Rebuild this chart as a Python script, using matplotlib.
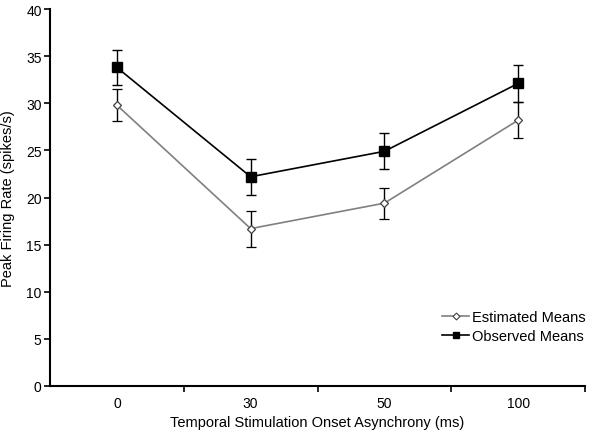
import numpy as np
import matplotlib.pyplot as plt
from matplotlib.ticker import FixedLocator
from matplotlib.lines import Line2D

plt.rcParams['font.family'] = ['Liberation Sans', 'DejaVu Sans']

# Data
soa_labels = ["0", "30", "50", "100"]
estimated = [29.8, 16.7, 19.4, 28.2]
estimated_err = [1.7, 1.9, 1.65, 1.9]
observed = [33.8, 22.2, 24.9, 32.1]
observed_err = [1.9, 1.9, 1.9, 2.0]

x = np.arange(len(soa_labels))

fig = plt.figure(figsize=(6, 4.39), dpi=100)
ax = fig.add_axes([50 / 600, 1 - 387 / 439, 535 / 600, 377 / 439])

est_style = dict(color="#808080", lw=1.2, marker="D", markersize=4.5,
                 markerfacecolor="white", markeredgecolor="#404040",
                 markeredgewidth=0.9)
obs_style = dict(color="black", lw=1.2, marker="s", markersize=7,
                 markerfacecolor="black", markeredgecolor="black")

ax.errorbar(x, estimated, yerr=estimated_err, ecolor="black", elinewidth=1,
            capsize=3.5, capthick=1, zorder=3, **est_style)
ax.errorbar(x, observed, yerr=observed_err, ecolor="black", elinewidth=1,
            capsize=3.5, capthick=1, zorder=4, **obs_style)

ax.set_xlim(-0.5, 3.5)
ax.set_ylim(0, 40)
ax.set_yticks(np.arange(0, 41, 5))
ax.set_xticks(x)
ax.set_xticklabels(soa_labels)
ax.xaxis.set_minor_locator(FixedLocator([0.5, 1.5, 2.5, 3.5]))
ax.tick_params(axis="x", which="major", length=0, pad=7, labelsize=10)
ax.tick_params(axis="x", which="minor", length=4, width=1.2, direction="out")
ax.tick_params(axis="y", length=4, width=1.2, direction="out", labelsize=10, pad=2)

for s in ["top", "right"]:
    ax.spines[s].set_visible(False)
for s in ["left", "bottom"]:
    ax.spines[s].set_linewidth(1.5)

ax.set_xlabel("Temporal Stimulation Onset Asynchrony (ms)", fontsize=10.5, labelpad=4)
ax.set_ylabel("Peak Firing Rate (spikes/s)", fontsize=10.5, labelpad=8)

handles = [
    Line2D([], [], color="#808080", lw=1.2, marker="D", markersize=3.5,
           markerfacecolor="white", markeredgecolor="#404040", markeredgewidth=0.8),
    Line2D([], [], color="black", lw=1.2, marker="s", markersize=5,
           markerfacecolor="black"),
]
ax.legend(handles, ["Estimated Means", "Observed Means"], loc="lower right",
          bbox_to_anchor=(1.025, 0.08), frameon=False, fontsize=10.5,
          handlelength=1.8, handletextpad=0.2, labelspacing=0.35)

fig.savefig("out.png", dpi=100)
